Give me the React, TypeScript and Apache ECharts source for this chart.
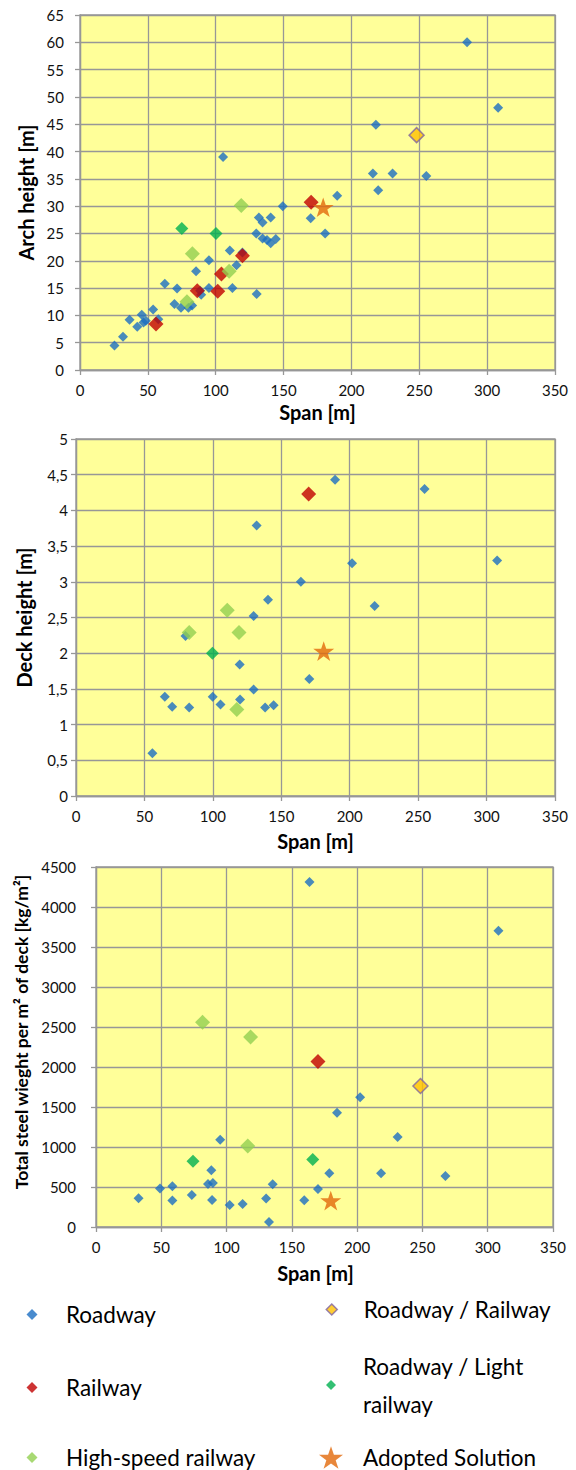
import React, { useEffect, useRef } from "react";
import * as echarts from "echarts";

// ---------- DATA ----------
const spanTicks = [0, 50, 100, 150, 200, 250, 300, 350];
const archTicks = [0, 5, 10, 15, 20, 25, 30, 35, 40, 45, 50, 55, 60, 65];
const deckTicks = [0, 0.5, 1, 1.5, 2, 2.5, 3, 3.5, 4, 4.5, 5];
const steelTicks = [0, 500, 1000, 1500, 2000, 2500, 3000, 3500, 4000, 4500];

const categories = [
  "Roadway",
  "Railway",
  "High-speed railway",
  "Roadway / Railway",
  "Roadway / Light railway",
  "Adopted Solution",
];

// Chart 1: [span m, arch height m]
const archRoadway = [
  [25.4, 4.5], [31.7, 6.1], [36.5, 9.2], [42.2, 7.9], [45.5, 10.1], [46.8, 8.7], [48.5, 9.0],
  [53.9, 11.1], [57.7, 9.3], [62.5, 15.8], [69.6, 12.1], [71.5, 14.9], [74.4, 11.4], [79.9, 11.4],
  [82.6, 11.8], [85.5, 18.1], [88.5, 14.5], [89.3, 13.8], [95, 20.1], [95, 15], [105.4, 39],
  [110.4, 21.9], [112.3, 15], [115.3, 19.2], [119.7, 21.5], [130.2, 13.9], [129.9, 25],
  [131.8, 27.9], [134.5, 27], [134.5, 24.1], [137.8, 23.8], [140.5, 23.2], [140.5, 27.9],
  [144.3, 24], [149.4, 30], [170, 27.8], [180.6, 25], [189.5, 31.9], [219.7, 32.9], [215.8, 36],
  [230.3, 36], [255.2, 35.5], [218, 44.9], [285.2, 60], [308.1, 48],
];
const archRailway = [[56, 8.4], [86.4, 14.5], [101.5, 14.4], [104.2, 17.6], [119.7, 20.9], [170.3, 30.7]];
const archHighSpeed = [[78.8, 12.5], [82.8, 21.3], [109.9, 18.1], [118.8, 30.1]];
const archRoadRail = [[248, 43]];
const archLightRail = [[75, 25.9], [100.2, 25]];
const archAdopted = [[179.2, 29.8]];

// Chart 2: [span m, deck height m]
const deckRoadway = [
  [55.8, 0.6], [64.9, 1.39], [70.3, 1.25], [82.7, 1.24], [80, 2.24], [99.9, 1.39], [105.6, 1.28],
  [119.6, 1.84], [119.9, 1.35], [129.8, 1.49], [129.8, 2.52], [138.2, 1.24], [144.4, 1.27],
  [140.3, 2.75], [132, 3.79], [164.3, 3.0], [170.5, 1.64], [189.3, 4.43], [201.7, 3.26],
  [218.2, 2.66], [254.7, 4.3], [307.7, 3.3],
];
const deckRailway = [[170, 4.23]];
const deckHighSpeed = [[82.7, 2.29], [110.5, 2.6], [119.1, 2.29], [117.5, 1.21]];
const deckRoadRail: number[][] = [];
const deckLightRail = [[99.7, 2.0]];
const deckAdopted = [[181, 2.03]];

// Chart 3: [span m, steel weight kg/m2]
const steelRoadway = [
  [32.6, 359], [49, 480], [58.5, 510], [58.5, 330], [73.4, 401], [85.8, 539], [88.3, 710],
  [89.5, 551], [88.9, 338], [95.1, 1090], [102.4, 276], [112.3, 288], [130.3, 355], [132.5, 63],
  [135.3, 535], [159.5, 334], [163.5, 4312], [170, 476], [178.7, 673], [184.6, 1429],
  [202.3, 1621], [218.3, 673], [231, 1124], [267.6, 639], [308.2, 3704],
];
const steelRailway = [[170, 2068]];
const steelHighSpeed = [[81.6, 2558], [118.4, 2375], [116.2, 1011]];
const steelRoadRail = [[248.5, 1763]];
const steelLightRail = [[74.3, 823], [166, 844]];
const steelAdopted = [[179.8, 330]];

// ---------- STYLE ----------
const FONT = "Lato";
const GRID_COLOR = "#979797";
const STAR =
  "path://M50,0 L61.8,35.1 L98.9,35.1 L69.1,57 L80.3,91.9 L50,70 L19.7,91.9 L30.9,57 L1.1,35.1 L38.2,35.1 Z";

const catStyle: Record<string, any> = {
  "Roadway": { symbol: "diamond", size: 10, itemStyle: { color: "#1B6EC2" } },
  "Railway": { symbol: "diamond", size: 15, itemStyle: { color: "#C00000" } },
  "High-speed railway": { symbol: "diamond", size: 15, itemStyle: { color: "#92D050" } },
  "Roadway / Railway": {
    symbol: "diamond",
    size: 15,
    itemStyle: { color: "#FFC000", borderColor: "#8064A2", borderWidth: 1.5 },
  },
  "Roadway / Light railway": { symbol: "diamond", size: 13, itemStyle: { color: "#00B050" } },
  "Adopted Solution": { symbol: STAR, size: 21, itemStyle: { color: "#E2690A" } },
};

export default function App() {
  const ref = useRef<HTMLDivElement>(null);

  useEffect(() => {
    if (!ref.current) return;
    const chart = echarts.init(ref.current, null, { renderer: "svg" });

    const grids = [
      { left: 80, top: 15, width: 475, height: 355 },
      { left: 76, top: 439, width: 479, height: 357 },
      { left: 96, top: 867, width: 457, height: 360 },
    ].map((g) => ({
      ...g,
      show: true,
      backgroundColor: "#FFFF99",
      borderColor: GRID_COLOR,
      borderWidth: 1.3,
    }));

    const axisCommon = {
      type: "value" as const,
      axisLine: { show: true, lineStyle: { color: GRID_COLOR, width: 1.3 } },
      axisTick: { show: true, inside: false, length: 5, lineStyle: { color: GRID_COLOR, width: 1.3 } },
      splitLine: { show: true, lineStyle: { color: GRID_COLOR, width: 1.3 } },
      axisLabel: { fontFamily: FONT, fontSize: 15, color: "#111" },
      nameLocation: "middle" as const,
      nameTextStyle: { fontFamily: FONT, fontWeight: "bold" as const, fontSize: 20, color: "#000" },
    };

    const xAxes = [0, 1, 2].map((i) => ({
      ...axisCommon,
      gridIndex: i,
      min: spanTicks[0],
      max: spanTicks[spanTicks.length - 1],
      interval: spanTicks[1] - spanTicks[0],
      name: "Span [m]",
      nameGap: [32, 35, 36][i],
      axisLabel: { ...axisCommon.axisLabel, margin: 12 },
      nameTextStyle:
        i === 2 ? { ...axisCommon.nameTextStyle, padding: [0, 18, 0, 0] } : axisCommon.nameTextStyle,
    }));

    const plain = (v: number) => String(v);

    const yAxes = [
      {
        ...axisCommon,
        gridIndex: 0,
        min: archTicks[0],
        max: archTicks[archTicks.length - 1],
        interval: archTicks[1] - archTicks[0],
        name: "Arch height [m]",
        nameGap: 42,
        axisLabel: { ...axisCommon.axisLabel, margin: 16, formatter: plain },
      },
      {
        ...axisCommon,
        gridIndex: 1,
        min: deckTicks[0],
        max: deckTicks[deckTicks.length - 1],
        interval: deckTicks[1] - deckTicks[0],
        name: "Deck height [m]",
        nameGap: 42,
        axisLabel: {
          ...axisCommon.axisLabel,
          margin: 8,
          formatter: (v: number) => String(v).replace(".", ","),
        },
      },
      {
        ...axisCommon,
        gridIndex: 2,
        min: steelTicks[0],
        max: steelTicks[steelTicks.length - 1],
        interval: steelTicks[1] - steelTicks[0],
        name: "Total steel wieght per m² of deck [kg/m²]",
        nameGap: 64,
        axisLabel: { ...axisCommon.axisLabel, margin: 20, formatter: plain },
        nameTextStyle: { ...axisCommon.nameTextStyle, fontSize: 17.5, padding: [0, 0, 0, 30] },
      },
    ];

    const dataSets = [
      [archRoadway, archRailway, archHighSpeed, archRoadRail, archLightRail, archAdopted],
      [deckRoadway, deckRailway, deckHighSpeed, deckRoadRail, deckLightRail, deckAdopted],
      [steelRoadway, steelRailway, steelHighSpeed, steelRoadRail, steelLightRail, steelAdopted],
    ];

    const series: any[] = [];
    dataSets.forEach((sets, gi) => {
      sets.forEach((data, ci) => {
        const name = categories[ci];
        const st = catStyle[name];
        series.push({
          type: "scatter",
          name,
          xAxisIndex: gi,
          yAxisIndex: gi,
          data,
          symbol: st.symbol,
          symbolSize: st.size,
          symbolKeepAspect: true,
          itemStyle: st.itemStyle,
          emphasis: { disabled: true },
          z: 2 + ci,
        });
      });
    });

    // icon centre x (cx), text start x (tx), text box top
    const legendPos = [
      { name: "Roadway", cx: 32, tx: 66, top: 1302, size: 11 },
      { name: "Railway", cx: 32, tx: 66, top: 1375, size: 11 },
      { name: "High-speed railway", cx: 32, tx: 66, top: 1445, size: 11 },
      { name: "Roadway / Railway", cx: 331, tx: 363, top: 1297, size: 11 },
      { name: "Roadway / Light railway", cx: 331, tx: 363, top: 1347, size: 10, two: true },
      { name: "Adopted Solution", cx: 331, tx: 363, top: 1445, size: 24 },
    ];

    const legends = legendPos.map((l) => {
      const st = catStyle[l.name];
      const left = l.cx - l.size / 2;
      const pad = l.tx - (left + l.size + 5);
      return {
        show: true,
        left,
        top: l.top,
        orient: "vertical",
        selectedMode: false,
        itemWidth: l.size,
        itemHeight: l.size,
        padding: 0,
        data: [
          {
            name: l.name,
            icon: st.symbol,
            itemStyle: { ...st.itemStyle },
          },
        ],
        formatter: l.two ? () => "Roadway / Light\nrailway" : undefined,
        textStyle: {
          fontFamily: FONT,
          fontSize: 22.5,
          color: "#000",
          lineHeight: l.two ? 38 : 25,
          padding: [0, 0, 0, pad],
        },
      };
    });

    chart.setOption({
      animation: false,
      grid: grids,
      xAxis: xAxes,
      yAxis: yAxes,
      legend: legends,
      series,
    });

    return () => chart.dispose();
  }, []);

  return (
    <div
      ref={ref}
      style={{ position: "absolute", left: 0, top: 0, width: 576, height: 1470, background: "#fff" }}
    />
  );
}
